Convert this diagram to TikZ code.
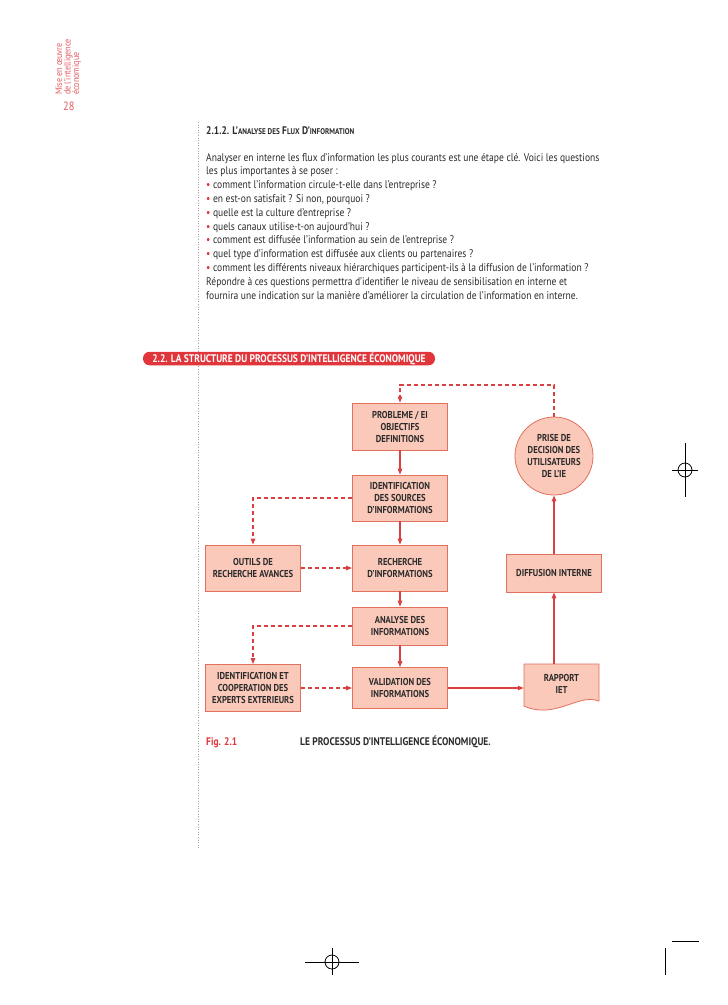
\documentclass[tikz,border=0pt]{standalone}
\usepackage{fontspec}
\setmainfont{PT Sans}[FakeStretch=0.86]
\usepackage{xcolor}
\usetikzlibrary{arrows.meta,positioning,calc}

\definecolor{iered}{HTML}{E0353B}
\definecolor{ieline}{HTML}{D9403F}
\definecolor{iefill}{HTML}{FAC9B9}
\definecolor{ieedge}{HTML}{E2705F}
\definecolor{ietext}{HTML}{2B2B2B}

\tikzset{
  iebox/.style={draw=ieedge, fill=iefill, line width=0.8pt, minimum width=95pt,
    align=center, font=\fontsize{10}{12}\selectfont\bfseries, text=ietext, inner sep=2pt},
  solidarrow/.style={draw=ieline, line width=1.2pt, -{Triangle[length=6pt,width=4.5pt]}},
  dasharrow/.style={solidarrow, dash pattern=on 4pt off 3pt},
  cropmark/.style={line width=0.8pt, black}
}

\begin{document}
\begin{tikzpicture}[x=1pt,y=-1pt]
        % Page
        \fill[white] (0,0) rectangle (728,1005);
        \useasboundingbox (0,0) rectangle (728,1005);

        % Margin text
        \node[rotate=90, anchor=base west, inner sep=0pt, text=iered!80, font=\fontsize{9.5}{8}\selectfont] (mise) at (62,95) {Mise en œuvre};
        \node[rotate=90, anchor=base west, inner sep=0pt, text=iered!80, font=\fontsize{9.5}{8}\selectfont] (intel) at (70.5,95) {de l’intelligence};
        \node[rotate=90, anchor=base west, inner sep=0pt, text=iered!80, font=\fontsize{9.5}{8}\selectfont] (econ) at (79,95) {économique};
        \node[anchor=base west, inner sep=0pt, text=iered!80, font=\fontsize{12}{12}\selectfont] (pagenum) at (63,110) {28};

        % Dotted rule
        \draw[gray!70, dotted, line width=0.6pt] (198,122) -- (198,850);

        % Section 2.1.2
        \node[anchor=base west, inner sep=0pt, text=ietext, font=\bfseries\fontsize{11}{12}\selectfont] (heading) at (206,134)
          {2.1.2. L’{\fontsize{8.3}{10}\selectfont ANALYSE DES} F{\fontsize{8.3}{10}\selectfont LUX} D’{\fontsize{8.3}{10}\selectfont INFORMATION}};
        \node[anchor=north west, align=left, inner sep=0pt, text=ietext, font=\fontsize{11.1}{13.8}\selectfont] (body) at (206,153)
          {Analyser en interne les flux d’information les plus courants est une étape clé. Voici les questions\\
           les plus importantes à se poser :\\
           {\color{iered}•} comment l’information circule-t-elle dans l’entreprise ?\\
           {\color{iered}•} en est-on satisfait ? Si non, pourquoi ?\\
           {\color{iered}•} quelle est la culture d’entreprise ?\\
           {\color{iered}•} quels canaux utilise-t-on aujourd’hui ?\\
           {\color{iered}•} comment est diffusée l’information au sein de l’entreprise ?\\
           {\color{iered}•} quel type d’information est diffusée aux clients ou partenaires ?\\
           {\color{iered}•} comment les différents niveaux hiérarchiques participent-ils à la diffusion de l’information ?\\
           Répondre à ces questions permettra d’identifier le niveau de sensibilisation en interne et\\
           fournira une indication sur la manière d’améliorer la circulation de l’information en interne.};

        % Section 2.2 banner
        \node[fill=iered, rounded corners=6.5pt, text=white, font=\bfseries\fontsize{11}{12}\selectfont,
          minimum width=292pt, minimum height=13.5pt, inner sep=0pt] (banner) at (289,358.5)
          {2.2. LA STRUCTURE DU PROCESSUS D’INTELLIGENCE ÉCONOMIQUE};

        % Process boxes
        \node[iebox, minimum height=47pt] (prob) at (400,426.5) {PROBLEME / EI\\OBJECTIFS\\DEFINITIONS};
        \node[iebox, minimum height=46pt] (src) at (400,498) {IDENTIFICATION\\DES SOURCES\\D’INFORMATIONS};
        \node[iebox, minimum height=46pt] (outils) at (253,568) {OUTILS DE\\RECHERCHE AVANCES};
        \node[iebox, minimum height=46pt] (rech) at (400,568) {RECHERCHE\\D’INFORMATIONS};
        \node[iebox, minimum height=38pt] (analyse) at (400,626) {ANALYSE DES\\INFORMATIONS};
        \node[iebox, minimum height=47pt] (experts) at (253,688) {IDENTIFICATION ET\\COOPERATION DES\\EXPERTS EXTERIEURS};
        \node[iebox, minimum height=41pt] (valid) at (400,688) {VALIDATION DES\\INFORMATIONS};
        \node[iebox, minimum height=38pt] (diff) at (554,573) {DIFFUSION INTERNE};
        \node[iebox, circle, minimum size=78pt, inner sep=0pt] (decision) at (554,456) {PRISE DE\\DECISION DES\\UTILISATEURS\\DE L’IE};

        % Rapport (document shape)
        \draw[draw=ieedge, fill=iefill, line width=0.8pt] (524,664) -- (599,664) -- (599,701)
          .. controls (578,693) and (555,720) .. (524,706) -- cycle;
        \node[align=center, text=ietext, font=\fontsize{10}{12}\selectfont\bfseries,
          minimum width=75pt, minimum height=40pt, inner sep=2pt] (rapport) at (561.5,684) {RAPPORT\\IET};

        % Connectors
        \coordinate (loop) at (554,385);
        \draw[dasharrow] (decision.north) -- (loop) -| (prob.north);
        \draw[solidarrow] (prob) -- (src);
        \draw[solidarrow] (src) -- (rech);
        \draw[solidarrow] (rech) -- (analyse);
        \draw[solidarrow] (analyse) -- (valid);
        \draw[dasharrow] (src.west) -| (outils.north);
        \draw[dasharrow] (analyse.west) -| (experts.north);
        \draw[dasharrow] (outils) -- (rech);
        \draw[dasharrow] (experts) -- (valid);
        \draw[solidarrow] (valid.east) -- (valid.east -| rapport.west);
        \draw[solidarrow] (rapport.north -| diff.south) -- (diff.south);
        \draw[solidarrow] (diff) -- (decision);

        % Caption
        \node[anchor=base west, inner sep=0pt, text=iered, font=\bfseries\fontsize{11}{12}\selectfont] (figno) at (206,745) {Fig. 2.1};
        \node[anchor=base west, inner sep=0pt, text=ietext, font=\bfseries\fontsize{11}{12}\selectfont] (figtitle) at (300,745) {LE PROCESSUS D’INTELLIGENCE ÉCONOMIQUE.};

        % Crop marks
        \draw[cropmark] (685,443) -- (685,497);
        \draw[cropmark] (672,470) -- (698,470);
        \draw[cropmark] (685,470) circle[radius=7pt];
        \draw[cropmark] (332,948) -- (332,975);
        \draw[cropmark] (305,962) -- (359,962);
        \draw[cropmark] (332,962) circle[radius=7pt];
        \draw[cropmark] (672,941) -- (699,941);
        \draw[cropmark] (665,948) -- (665,975);
    \end{tikzpicture}
\end{document}
